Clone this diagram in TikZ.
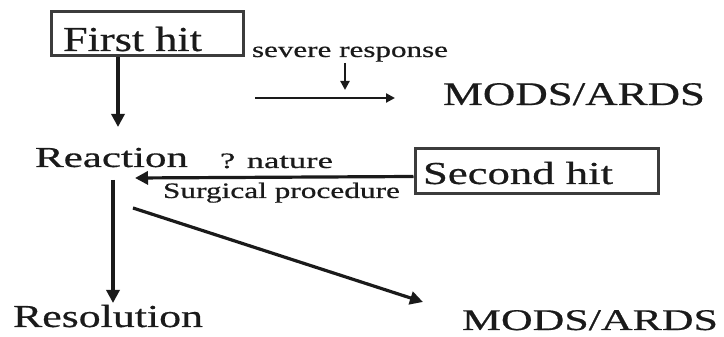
\documentclass[tikz,border=0pt]{standalone}
\usepackage{fontspec}
\setmainfont{Liberation Serif}[FakeBold=0.5]
\usepackage{graphicx}
\usetikzlibrary{arrows.meta,calc}

% stretch a label horizontally to a given width (in pt), keeping its height
\newdimen\fitlen
\newcommand\fitto[2]{\settowidth{\fitlen}{#2}\scalebox{\fpeval{#1/\the\fitlen}}[1]{#2}}
\newcommand\fs[1]{\fontsize{#1}{#1}\selectfont}

\definecolor{ink}{HTML}{1A1A1A}

\tikzset{
  lbl/.style={inner sep=0pt, outer sep=0pt, anchor=base west, text=ink},
  boxst/.style={draw=ink!85, line width=3pt, inner sep=0pt, anchor=south west},
  arr/.style={draw=ink, line width=3.2pt, -{Triangle[length=13pt,width=13pt]}},
  arrs/.style={draw=ink, line width=2.2pt, -{Triangle[length=9pt,width=9pt]}},
}

\begin{document}
\begin{tikzpicture}[x=1pt,y=1pt]
\useasboundingbox (0,0) rectangle (724,337);

% boxes
\node[boxst, minimum width=192pt, minimum height=44pt] (fhbox) at (49.5,279.5) {};
\node[boxst, minimum width=243pt, minimum height=45pt] (shbox) at (413.5,141.5) {};

% labels
\node[lbl, font=\fs{35}] (first)    at (63,286)  {\fitto{139}{First hit}};
\node[lbl, font=\fs{22}] (severe)   at (252,280) {\fitto{196}{severe response}};
\node[lbl, font=\fs{33}] (modsA)    at (443,232) {\fitto{262}{MODS/ARDS}};
\node[lbl, font=\fs{29}] (reaction) at (35,170)  {\fitto{153}{Reaction}};
\node[lbl, font=\fs{22}] (nature)   at (220,169) {\fitto{113}{? nature}};
\node[lbl, font=\fs{22}] (surg)     at (163,139) {\fitto{237}{Surgical procedure}};
\node[lbl, font=\fs{32}] (second)   at (423,153) {\fitto{190}{Second hit}};
\node[lbl, font=\fs{32}] (resol)    at (13,10)   {\fitto{190}{Resolution}};
\node[lbl, font=\fs{30}] (modsB)    at (462,7)   {\fitto{256}{MODS/ARDS}};

% connectors
\draw[arr]  ([xshift=68.5pt]fhbox.south west) -- ([shift={(83pt,40pt)}]reaction.base west);
\draw[arrs] ([shift={(-188pt,7pt)}]modsA.base west) -- ([shift={(-48pt,7pt)}]modsA.base west);
\draw[arrs] ([shift={(93pt,-6pt)}]severe.base west) -- ([shift={(93pt,-33pt)}]severe.base west);
\draw[arr]  ([yshift=-5pt]shbox.west) -- ([shift={(100pt,-11pt)}]reaction.base west);
\draw[arr]  ([shift={(78pt,-13pt)}]reaction.base west) -- ([shift={(100pt,24pt)}]resol.base west);
\draw[arr]  ([shift={(98pt,-41pt)}]reaction.base west) -- ([shift={(-39pt,28pt)}]modsB.base west);
\end{tikzpicture}
\end{document}
